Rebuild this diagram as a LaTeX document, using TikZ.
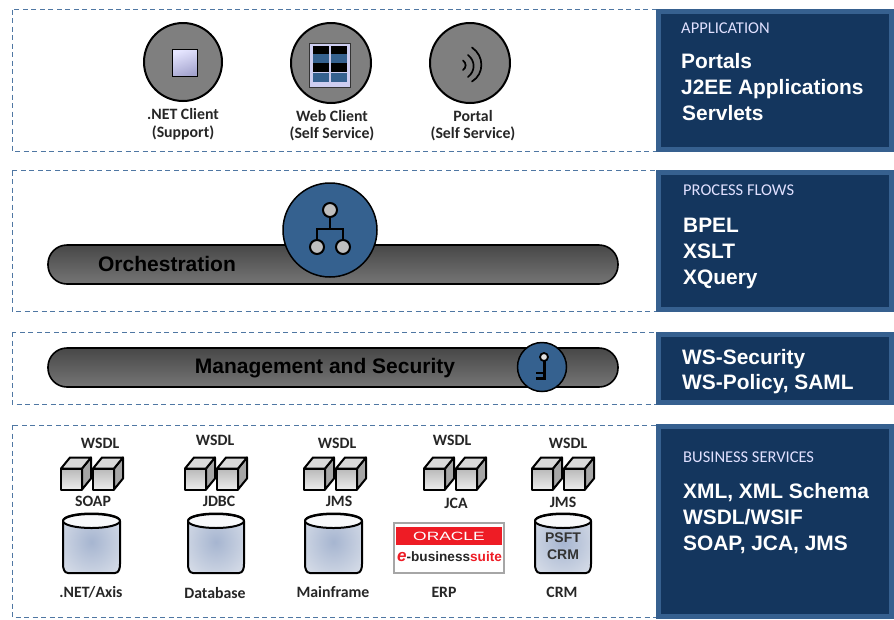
\documentclass[tikz,border=0pt]{standalone}
\usepackage{fontspec}
\setmainfont{Carlito}
\newfontfamily\arialfont{Liberation Sans}
\usetikzlibrary{calc}
\definecolor{dashblue}{HTML}{4F77A3}
\definecolor{panelrim}{HTML}{36608F}
\definecolor{panelfill}{HTML}{14365E}
\definecolor{iconblue}{HTML}{35618F}
\definecolor{discgray}{HTML}{7F7F7F}
\definecolor{oraclered}{HTML}{EE1C25}
\definecolor{drumin}{HTML}{A6B5D0}
\definecolor{drumout}{HTML}{DDE2EB}
\pgfdeclareradialshading{drumshade}{\pgfpoint{0bp}{0bp}}{color(0bp)=(drumin); color(38bp)=(drumout); color(50bp)=(drumout)}
\tikzset{
  layerbox/.style={draw=dashblue,line width=1pt,dash pattern=on 5pt off 3.5pt},
  panelbox/.style={draw=panelrim,fill=panelfill,line width=5pt},
  panelhead/.style={anchor=west,inner sep=0pt,text height=11pt,text depth=1pt,text=white!88!blue,font=\fontsize{16.5}{18}\selectfont},
  paneltext/.style={anchor=west,inner sep=0pt,text height=15pt,text depth=0.6pt,text=white,font=\arialfont\bfseries\fontsize{20.9}{22}\selectfont},
  disc/.style={circle,draw=black,line width=2pt,fill=discgray,minimum size=#1,inner sep=0pt},
  bluedisc/.style={circle,draw=black,line width=1.5pt,fill=iconblue,minimum size=#1,inner sep=0pt},
  barbox/.style={draw=black,line width=1.6pt,rounded corners=19pt,top color=black!72,bottom color=black!54},
  barlabel/.style={inner sep=0pt,text height=15pt,text depth=0.6pt,text=black,font=\arialfont\bfseries\fontsize{21}{22}\selectfont},
  smalllabel/.style={inner sep=0pt,text height=11pt,text depth=1pt,text=black!85,font=\bfseries\fontsize{15.8}{17}\selectfont},
  cubeface/.style={draw=black,line width=2pt,line join=round},
  drum/.style={draw=black,line width=2pt,line join=round},
  wavearc/.style={black,line width=1.7pt,line cap=round},
}
% cube with its front face at a top left corner
\newcommand{\cubeicon}[2]{
  \fill[gray!70,cubeface] (#1+21,#2) -- (#1+30,#2-11) -- (#1+30,#2+10) -- (#1+21,#2+21) -- cycle;
  \fill[gray!30,cubeface] (#1,#2) -- (#1+9,#2-11) -- (#1+30,#2-11) -- (#1+21,#2) -- cycle;
  \shade[top color=gray!55,bottom color=gray!15,cubeface] (#1,#2) rectangle (#1+21,#2+21);
}
% drum between a left x and a right x
\newcommand{\drumicon}[2]{
  \shade[shading=drumshade,drum]
    (#1,521) -- (#1,564) to[out=-90,in=180] (#1+5,573) -- (#2-5,573) to[out=0,in=-90] (#2,564) -- (#2,521)
    .. controls (#2,511) and (#1,511) .. (#1,521) -- cycle;
  \fill[white!92!drumin,drum] ({(#1+#2)/2},521) ellipse[x radius={(#2-#1)/2},y radius=7];
}
\begin{document}
\begin{tikzpicture}[x=1pt,y=-1pt]
\useasboundingbox (0,0) rectangle (894,619);
% layers
\draw[layerbox] (12,9.5) rectangle (656,151);
\draw[layerbox] (12,170.5) rectangle (656,311);
\draw[layerbox] (12,332) rectangle (656,404);
\draw[layerbox] (12,425) rectangle (656,617);
% right panels
\draw[panelbox] (658.5,11.5) rectangle (891.5,149.5);
\draw[panelbox] (658.5,172.5) rectangle (891.5,309.5);
\draw[panelbox] (658.5,334.5) rectangle (891.5,402.5);
\draw[panelbox] (658.5,426.5) rectangle (891.5,616);
\node[panelhead] (apphead) at (681,28) {APPLICATION};
\node[paneltext] (portals) at (681,61) {Portals};
\node[paneltext] (j2ee) at (681,87.5) {J2EE Applications};
\node[paneltext] (servlets) at (682,113) {Servlets};
\node[panelhead] (flowhead) at (683,190) {PROCESS FLOWS};
\node[paneltext] (bpel) at (683,225) {BPEL};
\node[paneltext] (xslt) at (683,251) {XSLT};
\node[paneltext] (xquery) at (683,277) {XQuery};
\node[paneltext] (wssec) at (682,357) {WS-Security};
\node[paneltext] (wspol) at (682,382) {WS-Policy, SAML};
\node[panelhead] (bizhead) at (683,457) {BUSINESS SERVICES};
\node[paneltext] (xml) at (683,491) {XML, XML Schema};
\node[paneltext] (wsdlwsif) at (683,517) {WSDL/WSIF};
\node[paneltext] (soapjca) at (683,543) {SOAP, JCA, JMS};
% clients
\node[disc=78pt] (netdisc) at (183,62) {};
\node[disc=80pt] (webdisc) at (331,63) {};
\node[disc=80pt] (portaldisc) at (470,63) {};
\shade[left color=white!90!blue,right color=blue!30!gray!55,shading angle=20,draw=black,line width=1pt] (172,49.5) rectangle (197,76.5);
\draw[fill=gray!45!blue!25,draw=black!80,line width=1pt] (309.5,43.5) rectangle (350,87);
\foreach \colx in {313,331}{
  \foreach \rowy/\rowh/\rowc in {46/8/black,54/9/iconblue,63/9/black,73/9/iconblue}{
    \fill[\rowc] (\colx,\rowy) rectangle ++(16,\rowh);
  }
}
\draw[wavearc] (463,60.5) .. controls (466.5,63) and (466.5,67.5) .. (463,70);
\draw[wavearc] (468,55) .. controls (475.5,61) and (475.5,71) .. (468,77);
\draw[wavearc] (472,47.5) .. controls (484.5,56) and (484.5,74) .. (472,81.5);
\node[smalllabel] (netname) at (183,114.5) {.NET Client};
\node[smalllabel] (netrole) at (183,132) {(Support)};
\node[smalllabel] (webname) at (332,116) {Web Client};
\node[smalllabel] (webrole) at (332,133.5) {(Self Service)};
\node[smalllabel] (portalname) at (473,116) {Portal};
\node[smalllabel] (portalrole) at (473,133.5) {(Self Service)};
% orchestration
\shade[barbox] (48,245) rectangle (618,284);
\node[barlabel] (orch) at (167,264) {Orchestration};
\node[bluedisc=94pt] (orchdisc) at (330,230) {};
\draw[black,line width=2pt] (330,210) -- (330,229) (317,247) -- (317,229) -- (343,229) -- (343,247);
\foreach \nx/\ny in {330/210,317/247,343/247}{
  \fill[gray!50,draw=black,line width=2pt] (\nx,\ny) circle[radius=7];
}
% management
\shade[barbox] (48,348) rectangle (618,387);
\node[barlabel] (mgmt) at (325,366) {Management and Security};
\node[bluedisc=49pt] (keydisc) at (542,367) {};
\draw[black,line width=3pt] (544,360) -- (544,379.5);
\draw[black,line width=2.4pt] (536,373) -- (544,373) (536,378.3) -- (544,378.3);
\draw[draw=black,line width=1.8pt,fill=gray!25] (544,357) circle[radius=4];
% services
\foreach \pairx in {61,185,304,424,532}{
  \cubeicon{\pairx}{468.5}
  \cubeicon{\pairx+32}{468.5}
}
\drumicon{63}{120}
\drumicon{188}{244}
\drumicon{305}{362}
\drumicon{535}{591}
\node[inner sep=0pt,text=black!80,font=\arialfont\bfseries\fontsize{14}{15}\selectfont,align=center] (psft) at (563,546.5) {PSFT\\[2pt]CRM};
% oracle logo
\draw[gray!70,fill=white,line width=1.6pt] (394,523) rectangle (504,573);
\fill[oraclered] (396,527) rectangle (502,545);
\node[inner sep=0pt,text=white,font=\arialfont\fontsize{12}{12}\selectfont,xscale=1.45] (oracle) at (449,536) {ORACLE};
\node[inner sep=0pt,anchor=west,font=\arialfont\bfseries\fontsize{13.6}{14}\selectfont] (ebs) at (397,557) {\textcolor{oraclered}{\textit{\fontsize{17}{14}\selectfont e}}\textcolor{black!85}{-business}\textcolor{oraclered}{suite}};
\foreach \lx/\ly/\lname/\ltxt in {
  100/443/wsdla/WSDL,215/440/wsdlb/WSDL,337/443/wsdlc/WSDL,452/440/wsdld/WSDL,568/443/wsdle/WSDL,
  93/501/soap/SOAP,219/501/jdbc/JDBC,339/501/jmsa/JMS,456/503/jca/JCA,563/502/jmsb/JMS,
  91/592/axis/.NET\slash Axis,215/593/dbase/Database,333/592/mainfr/Mainframe,444/592/erp/ERP,562/592/crm/CRM}{
  \node[smalllabel] (\lname) at (\lx,\ly) {\ltxt};
}
\end{tikzpicture}
\end{document}
